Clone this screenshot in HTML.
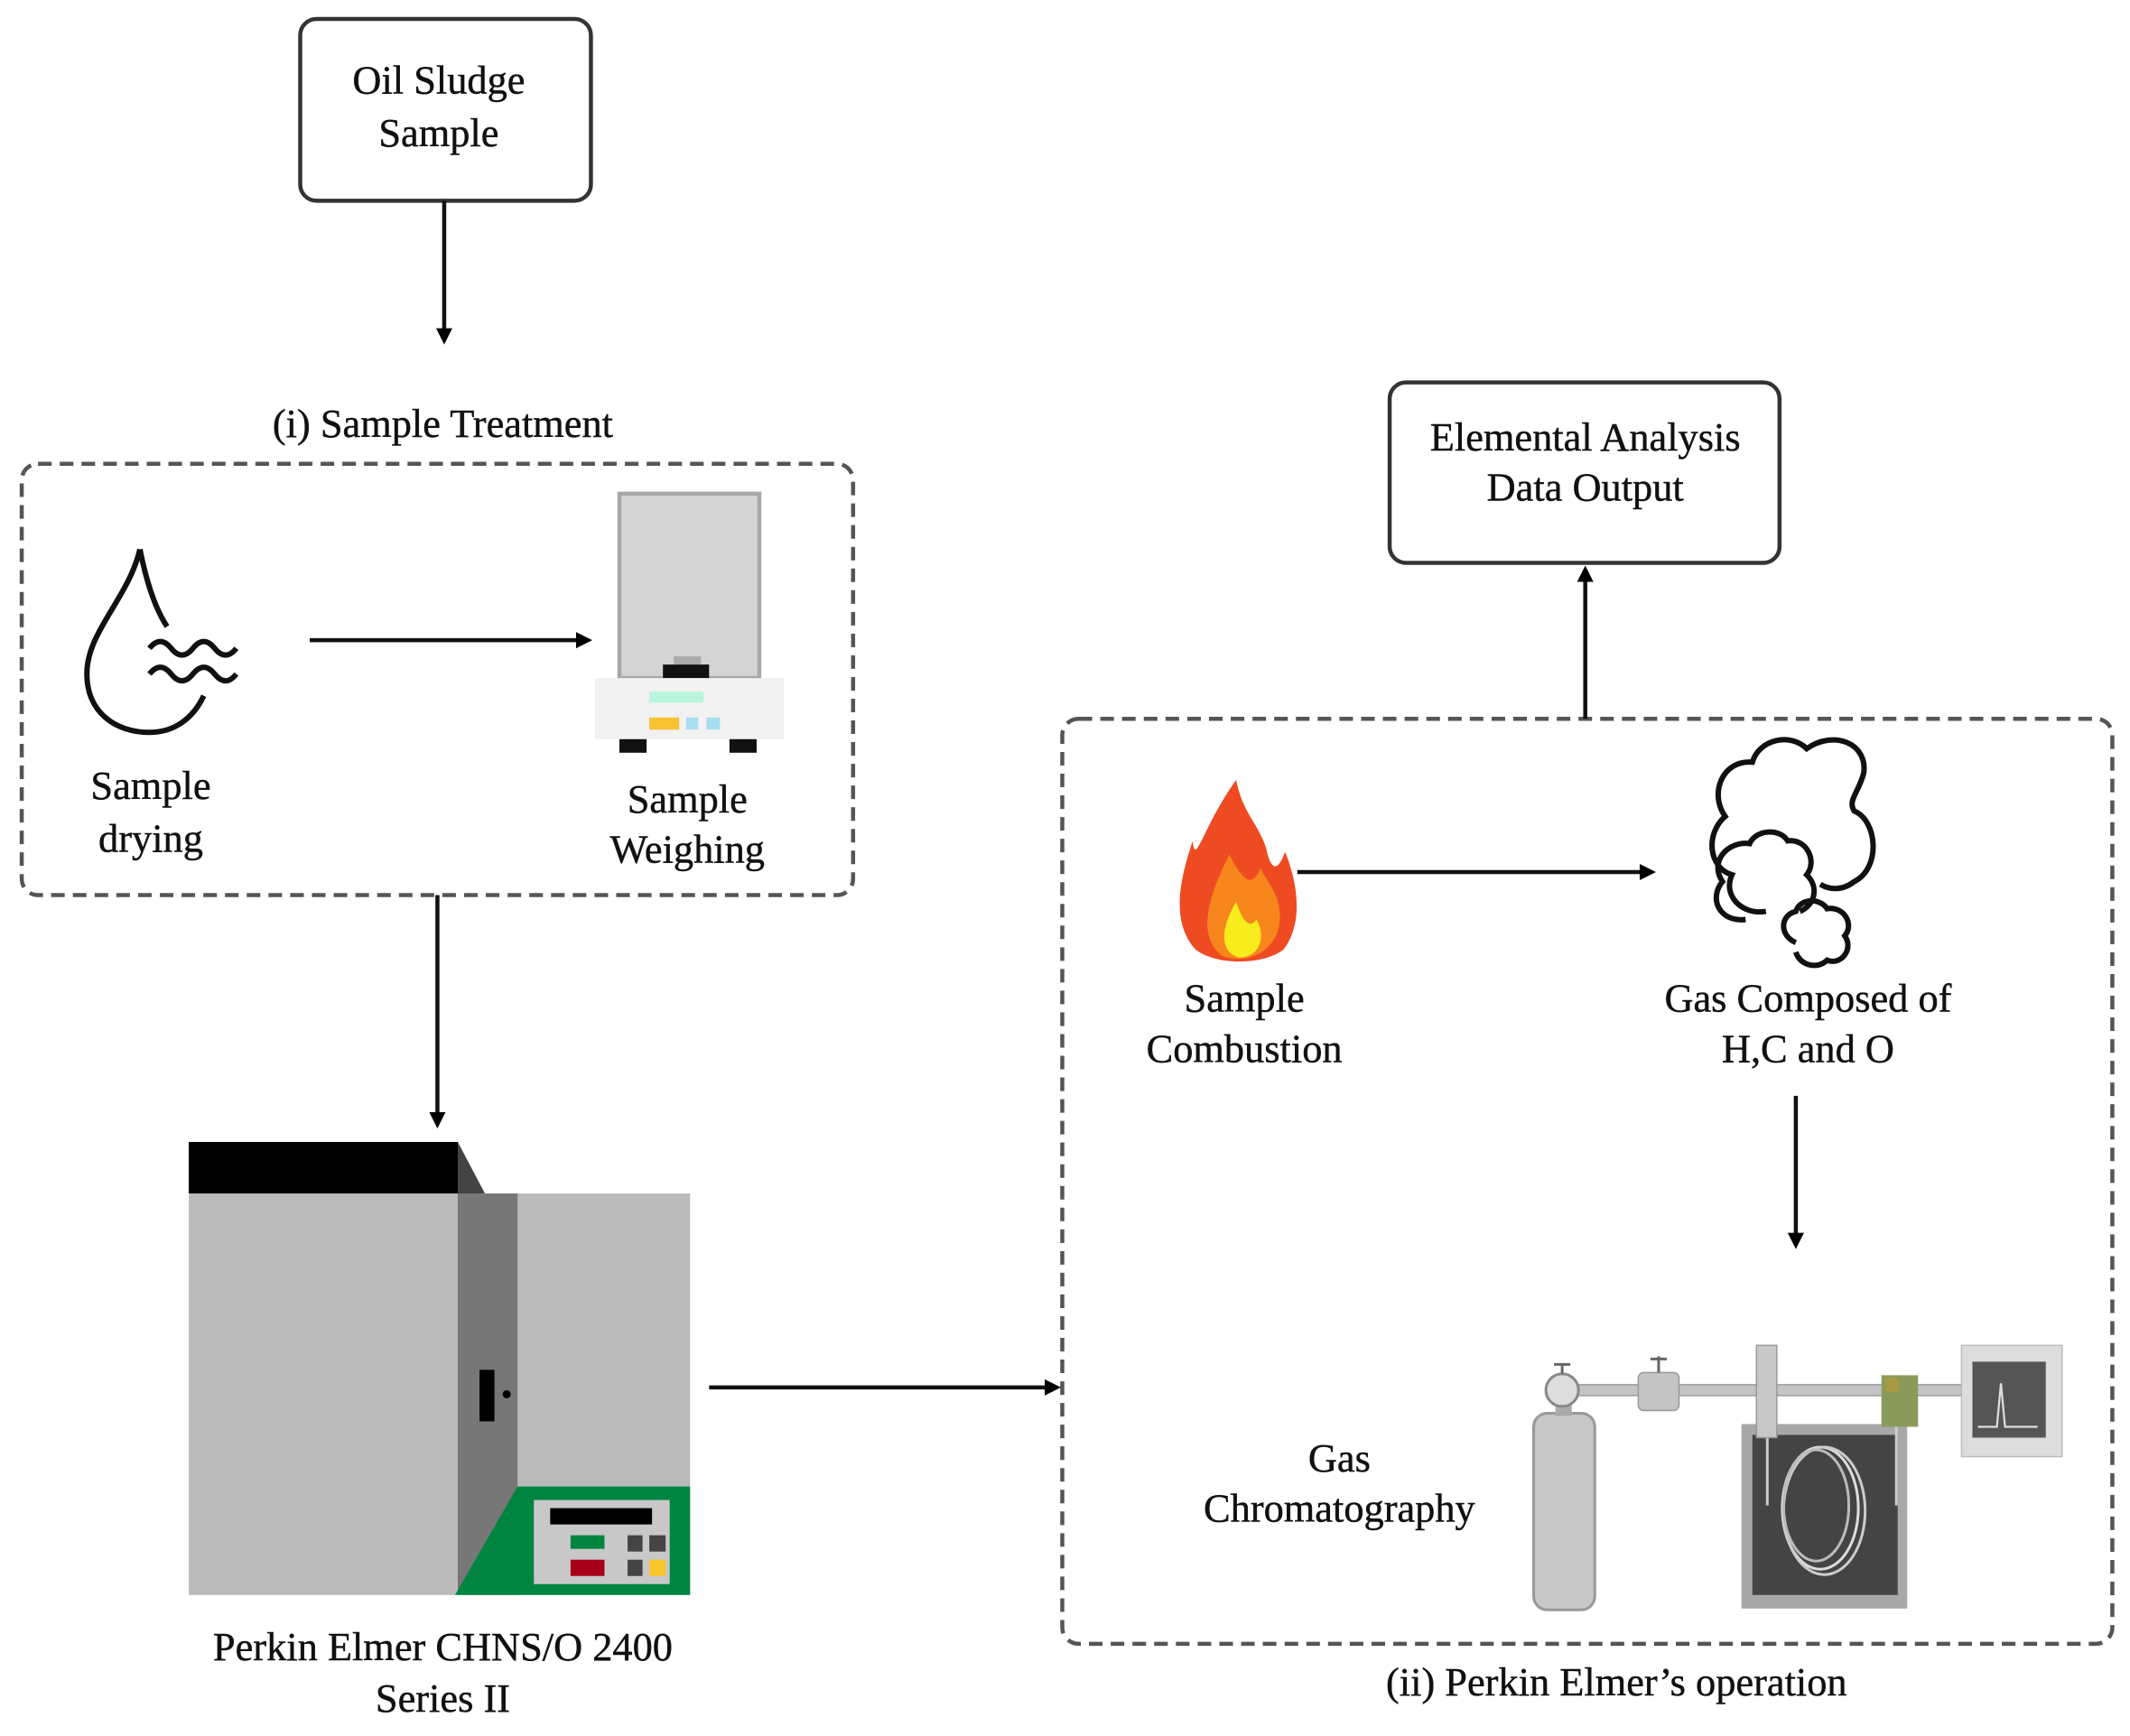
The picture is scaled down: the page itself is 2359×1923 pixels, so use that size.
<!DOCTYPE html>
<html><head><meta charset="utf-8"><style>
html,body{margin:0;padding:0;background:#fff;}
svg{display:block;}
text{font-family:"Liberation Serif",serif;font-size:29.5px;fill:#111;text-anchor:middle;stroke:#111;stroke-width:0.3px;}
</style></head><body>
<svg width="2359" height="1923" viewBox="0 0 1568 1280" preserveAspectRatio="none" xmlns="http://www.w3.org/2000/svg">
<defs>
<marker id="ah" markerWidth="14" markerHeight="14" refX="8" refY="7" orient="auto" markerUnits="userSpaceOnUse">
<path d="M0,1 L12,7 L0,13 Z" fill="#000"/></marker>
</defs>
<rect width="1568" height="1280" fill="#fff"/>

<rect x="221" y="14" width="214" height="134" rx="12" fill="#fff" stroke="#333" stroke-width="3"/>
<text x="323" y="69">Oil Sludge</text>
<text x="323" y="108">Sample</text>
<line x1="327" y1="148" x2="327" y2="250" stroke="#111" stroke-width="3" marker-end="url(#ah)"/>

<text x="326" y="322">(i) Sample Treatment</text>
<rect x="16" y="342" width="612" height="318" rx="12" fill="none" stroke="#555" stroke-width="3" stroke-dasharray="10,6"/>

<path d="M103,405 C95,440 65,465 64,495 C63,525 85,540 110,540 C128,540 142,530 150,513" fill="none" stroke="#111" stroke-width="4"/>
<path d="M103,405 C108,430 115,450 123,462" fill="none" stroke="#111" stroke-width="4"/>
<path d="M110,478 q8,-10 16,0 t16,0 t16,0 t16,0 M110,497 q8,-10 16,0 t16,0 t16,0 t16,0" fill="none" stroke="#111" stroke-width="4"/>
<text x="111" y="589">Sample</text>
<text x="111" y="628">drying</text>

<line x1="228" y1="472" x2="432" y2="472" stroke="#111" stroke-width="3" marker-end="url(#ah)"/>

<rect x="456" y="364" width="103" height="136" fill="#d4d4d4" stroke="#a8a8a8" stroke-width="3"/>
<rect x="496" y="484" width="20" height="6" fill="#aaa"/>
<rect x="488" y="490" width="34" height="10" fill="#111"/>
<rect x="438" y="500" width="139" height="45" fill="#f2f2f2"/>
<rect x="478" y="510" width="40" height="8" fill="#b8f5dc"/>
<rect x="478" y="529" width="22" height="9" fill="#f5c232"/>
<rect x="505" y="529" width="9" height="9" fill="#a8dff0"/>
<rect x="520" y="529" width="10" height="9" fill="#a8dff0"/>
<rect x="456" y="545" width="20" height="10" fill="#111"/>
<rect x="537" y="545" width="20" height="10" fill="#111"/>
<text x="506" y="599">Sample</text>
<text x="506" y="636">Weighing</text>

<line x1="322" y1="660" x2="322" y2="828" stroke="#111" stroke-width="3" marker-end="url(#ah)"/>

<rect x="139" y="842" width="198" height="38" fill="#000"/>
<polygon points="337,842 357,880 337,880" fill="#444"/>
<rect x="139" y="880" width="369" height="296" fill="#bababa"/>
<rect x="337" y="880" width="44" height="296" fill="#777"/>
<polygon points="335,1176 381,1096 508,1096 508,1176" fill="#008540"/>
<rect x="353" y="1010" width="11" height="38" fill="#000"/>
<circle cx="373" cy="1028" r="3" fill="#000"/>
<rect x="393" y="1106" width="100" height="62" fill="#c8c8c8"/>
<rect x="405" y="1112" width="75" height="12" fill="#000"/>
<rect x="420" y="1132" width="25" height="10" fill="#008540"/>
<rect x="420" y="1150" width="25" height="12" fill="#a8001a"/>
<rect x="462" y="1132" width="11" height="12" fill="#444"/>
<rect x="478" y="1132" width="12" height="12" fill="#444"/>
<rect x="462" y="1150" width="11" height="12" fill="#444"/>
<rect x="478" y="1150" width="12" height="12" fill="#f7c52c"/>
<text x="326" y="1224">Perkin Elmer CHNS/O 2400</text>
<text x="326" y="1262">Series II</text>

<line x1="522" y1="1023" x2="777" y2="1023" stroke="#111" stroke-width="3" marker-end="url(#ah)"/>

<rect x="782" y="530" width="773" height="682" rx="12" fill="none" stroke="#555" stroke-width="3" stroke-dasharray="10,6"/>
<text x="1190" y="1250">(ii) Perkin Elmer’s operation</text>

<rect x="1023" y="282" width="287" height="133" rx="12" fill="#fff" stroke="#333" stroke-width="3"/>
<text x="1167" y="332">Elemental Analysis</text>
<text x="1167" y="369">Data Output</text>
<line x1="1167" y1="530" x2="1167" y2="421" stroke="#111" stroke-width="3" marker-end="url(#ah)"/>

<path d="M910,575 C885,610 880,640 878,620 C868,650 862,680 880,700 C895,712 930,712 945,700 C960,680 955,650 946,628 C940,645 935,640 932,625 C925,605 915,600 910,575 Z" fill="#ef4b22"/>
<path d="M905,630 C890,660 880,690 900,705 C920,712 940,700 942,680 C944,660 932,650 928,640 C922,655 915,650 905,630 Z" fill="#f7861c"/>
<path d="M910,665 C898,685 898,702 912,706 C928,706 932,690 925,678 C920,685 915,680 910,665 Z" fill="#f7ec1c"/>
<text x="916" y="746">Sample</text>
<text x="916" y="783">Combustion</text>

<line x1="955" y1="643" x2="1215" y2="643" stroke="#111" stroke-width="3" marker-end="url(#ah)"/>

<g fill="none" stroke="#111" stroke-width="4">
<path d="M1300,672 C1282,675 1268,660 1275,645 C1258,640 1255,615 1270,602 C1258,585 1268,560 1290,562 C1295,545 1318,540 1330,552 C1350,538 1375,548 1372,570 C1368,585 1360,590 1365,598 C1382,605 1385,640 1365,650 C1355,658 1345,655 1340,652"/>
<path d="M1285,678 C1265,680 1258,662 1268,650 C1258,635 1272,620 1288,622 C1292,612 1310,610 1316,620 C1330,618 1338,635 1330,645 C1340,655 1335,668 1325,672"/>
<path d="M1322,695 C1310,690 1310,675 1322,672 C1325,662 1340,662 1345,670 C1358,668 1365,682 1358,690 C1365,700 1355,712 1345,708 C1338,715 1325,712 1322,702"/>
</g>
<text x="1331" y="746">Gas Composed of</text>
<text x="1331" y="783">H,C and O</text>

<line x1="1322" y1="808" x2="1322" y2="917" stroke="#111" stroke-width="3" marker-end="url(#ah)"/>

<text x="986" y="1085">Gas</text>
<text x="986" y="1122">Chromatography</text>

<rect x="1160" y="1021" width="290" height="8" fill="#c4c4c4" stroke="#999"/>
<rect x="1129" y="1042" width="45" height="145" rx="10" fill="#c8c8c8" stroke="#999" stroke-width="2"/>
<rect x="1145" y="1036" width="12" height="8" fill="#aaa"/>
<circle cx="1150" cy="1025" r="12" fill="#ddd" stroke="#888" stroke-width="2"/>
<line x1="1150" y1="1006" x2="1150" y2="1013" stroke="#666" stroke-width="2"/>
<line x1="1144" y1="1006" x2="1156" y2="1006" stroke="#666" stroke-width="2"/>
<rect x="1206" y="1012" width="30" height="28" rx="4" fill="#c4c4c4" stroke="#999"/>
<line x1="1221" y1="1000" x2="1221" y2="1012" stroke="#666" stroke-width="2"/>
<line x1="1215" y1="1002" x2="1227" y2="1002" stroke="#666" stroke-width="2"/>
<rect x="1282" y="1050" width="122" height="136" fill="#a8a8a8"/>
<rect x="1290" y="1058" width="107" height="118" fill="#444"/>
<ellipse cx="1340" cy="1112" rx="28" ry="45" fill="none" stroke="#ddd" stroke-width="2"/>
<ellipse cx="1343" cy="1114" rx="30" ry="47" fill="none" stroke="#ccc" stroke-width="2"/>
<ellipse cx="1337" cy="1110" rx="24" ry="41" fill="none" stroke="#bbb" stroke-width="2"/>
<line x1="1301" y1="1060" x2="1301" y2="1110" stroke="#ccc" stroke-width="2"/>
<line x1="1396" y1="1052" x2="1396" y2="1110" stroke="#ccc" stroke-width="2"/>
<rect x="1293" y="992" width="15" height="68" fill="#c8c8c8" stroke="#999"/>
<rect x="1385" y="1014" width="27" height="38" fill="#8a9a5b"/>
<rect x="1388" y="1016" width="10" height="10" fill="#a89a40"/>
<rect x="1444" y="992" width="74" height="82" fill="#ddd" stroke="#bbb"/>
<rect x="1452" y="1004" width="54" height="56" fill="#555"/>
<path d="M1456,1052 L1470,1052 L1473,1020 L1476,1052 L1500,1052" fill="none" stroke="#ddd" stroke-width="1.5"/>
</svg>
</body></html>
